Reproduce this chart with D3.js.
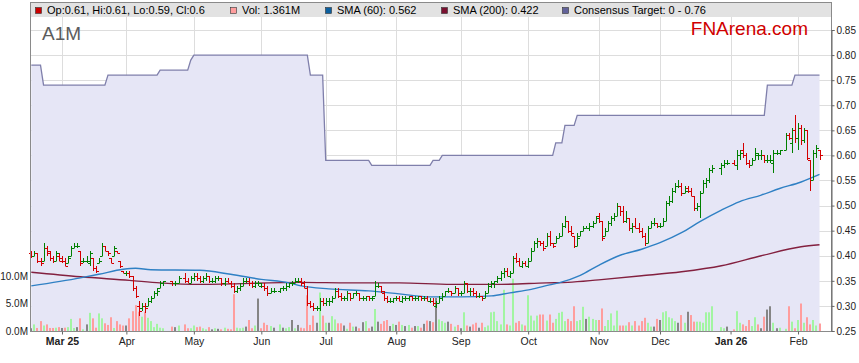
<!DOCTYPE html>
<html>
<head>
<meta charset="utf-8">
<script src="https://cdn.jsdelivr.net/npm/d3@7"></script>
<style>
  body { margin: 0; background: #fff; }
  svg { display: block; font-family: "Liberation Sans", Arial, sans-serif; }
</style>
</head>
<body>
<svg id="chart" width="859" height="363"></svg>
<script>
// weekday calendar of the chart (holidays keep their slot but have no bar)
var firstDay = "2025-02-17";
var lastDay = "2026-02-11";
var holidays = ["2025-04-18", "2025-04-21", "2025-04-25", "2025-06-09",
  "2025-12-25", "2025-12-26", "2026-01-01", "2026-01-26"];

var tickMonths = ["2025-03", "2025-04", "2025-05", "2025-06", "2025-07", "2025-08",
  "2025-09", "2025-10", "2025-11", "2025-12", "2026-01", "2026-02"];
var tickLabels = ["Mar 25", "Apr", "May", "Jun", "Jul", "Aug", "Sep", "Oct", "Nov", "Dec", "Jan 26", "Feb"];
var boldLabels = ["Mar 25", "Jan 26"];
var priceTicks = [0.25, 0.30, 0.35, 0.40, 0.45, 0.50, 0.55, 0.60, 0.65, 0.70, 0.75, 0.80, 0.85];
var volumeTicks = [0, 5, 10];

// daily bars, one entry per trading day
var opens = [
  .405,.40,.405,.39,.39,.415,.405,.395,.39,.40,
  .395,.39,.385,.40,.415,.42,.41,.39,.39,.385,.395,.375,.385,.40,.42,.41,.395,.40,.41,.39,.37,
  .365,.365,.36,.335,.30,.295,.30,.30,.31,.315,.325,.335,.345,.35,.345,.345,.355,.35,.345,
  .355,.36,.355,.35,.355,.36,.35,.35,.355,.355,.345,.35,.345,.34,.33,.335,.34,.35,.35,.345,.34,.345,
  .34,.34,.335,.325,.33,.33,.335,.335,.34,.345,.345,.35,.35,.345,.335,.305,.30,.295,.295,.31,
  .305,.31,.31,.315,.33,.32,.315,.315,.325,.315,.325,.325,.315,.315,.32,.315,.32,.34,.34,.325,.315,.31,.31,
  .315,.315,.31,.315,.315,.32,.315,.315,.32,.315,.315,.31,.31,.30,.305,.315,.32,.33,.33,.325,.335,
  .325,.325,.345,.33,.33,.325,.32,.32,.315,.325,.34,.345,.35,.355,.365,.37,.36,.365,.395,.39,.38,.385,
  .38,.39,.41,.425,.43,.425,.42,.44,.425,.425,.435,.44,.46,.47,.45,.44,.42,.44,.45,.455,.455,.46,.465,
  .48,.47,.44,.45,.465,.475,.48,.50,.49,.47,.475,.455,.46,.455,.45,.44,.425,.455,.465,.465,
  .46,.46,.47,.505,.51,.53,.54,.54,.525,.535,.53,.52,.495,.50,.525,.545,.55,.57,.575,.58,.585,
  .585,.58,.60,.61,.60,.585,.58,.59,.60,.60,.60,.59,.59,.585,.605,.605,.61,.64,.625,.65,
  .635,.655,.63,.65,.59,.55,.605,.61
];
var highs = [
  .41,.41,.405,.395,.425,.42,.41,.40,.41,.405,
  .40,.395,.40,.42,.425,.425,.41,.395,.40,.41,.395,.38,.395,.425,.42,.41,.395,.42,.41,.39,.37,
  .37,.37,.36,.34,.31,.305,.305,.315,.32,.33,.335,.35,.35,.35,.35,.36,.365,.355,.36,
  .365,.365,.36,.36,.365,.36,.355,.36,.36,.355,.355,.355,.35,.345,.34,.345,.355,.355,.355,.35,.35,.35,
  .345,.345,.34,.335,.335,.335,.34,.345,.345,.35,.355,.355,.355,.35,.34,.31,.305,.30,.315,.315,
  .315,.315,.32,.335,.335,.325,.32,.33,.325,.325,.33,.325,.32,.32,.32,.32,.35,.345,.34,.33,.32,.315,.315,
  .32,.32,.32,.32,.32,.32,.32,.32,.32,.32,.32,.315,.315,.31,.32,.325,.33,.335,.33,.34,.335,
  .33,.35,.345,.335,.335,.33,.325,.32,.33,.345,.35,.35,.36,.37,.375,.375,.37,.40,.405,.395,.39,.39,
  .395,.415,.43,.435,.43,.43,.445,.45,.425,.44,.445,.465,.48,.47,.46,.44,.445,.45,.46,.46,.465,.47,.48,
  .485,.47,.455,.47,.48,.485,.505,.50,.50,.49,.475,.465,.475,.465,.455,.445,.46,.47,.475,.465,
  .465,.475,.51,.52,.535,.545,.55,.545,.54,.54,.535,.52,.505,.53,.55,.555,.575,.58,.585,.59,.59,
  .59,.61,.61,.625,.605,.59,.595,.615,.605,.61,.60,.60,.60,.61,.61,.61,.645,.645,.655,.68,
  .665,.66,.655,.65,.59,.61,.62,.61
];
var lows = [
  .395,.40,.385,.38,.39,.40,.39,.385,.39,.39,
  .385,.38,.385,.40,.415,.415,.38,.385,.385,.38,.37,.365,.385,.40,.41,.40,.385,.40,.405,.375,.365,
  .36,.355,.33,.315,.28,.29,.285,.30,.305,.315,.32,.335,.34,.34,.34,.345,.345,.345,.345,
  .35,.35,.345,.345,.35,.345,.345,.345,.35,.34,.34,.345,.335,.325,.325,.33,.34,.345,.34,.335,.335,.34,
  .335,.33,.32,.325,.325,.325,.33,.33,.335,.34,.345,.345,.34,.335,.30,.295,.29,.29,.29,.30,
  .30,.30,.305,.315,.315,.31,.31,.31,.31,.315,.32,.31,.31,.31,.31,.31,.32,.335,.325,.31,.305,.305,.305,
  .31,.31,.305,.31,.31,.31,.31,.31,.31,.31,.31,.305,.30,.295,.305,.31,.32,.325,.32,.325,.32,
  .32,.325,.325,.32,.32,.315,.315,.31,.315,.325,.335,.335,.345,.35,.355,.36,.355,.365,.385,.38,.375,.38,
  .375,.39,.41,.415,.42,.41,.42,.42,.415,.425,.435,.44,.455,.445,.44,.415,.42,.44,.45,.455,.45,.455,.465,
  .465,.43,.44,.45,.46,.47,.48,.48,.465,.465,.45,.445,.455,.445,.435,.42,.425,.455,.46,.455,
  .455,.46,.47,.50,.505,.525,.535,.52,.525,.525,.52,.49,.49,.475,.525,.535,.545,.565,.56,.575,.58,
  .58,.57,.59,.595,.58,.575,.58,.59,.59,.59,.585,.585,.585,.565,.60,.60,.61,.63,.605,.625,
  .61,.62,.625,.59,.53,.55,.595,.59
];
var closes = [
  .40,.405,.39,.385,.415,.41,.395,.39,.405,.39,
  .39,.38,.395,.415,.42,.42,.385,.39,.39,.405,.375,.37,.39,.42,.41,.405,.385,.415,.405,.38,.365,
  .365,.36,.335,.32,.29,.30,.295,.31,.315,.325,.33,.345,.35,.345,.345,.355,.35,.345,.355,
  .36,.355,.35,.355,.36,.35,.35,.355,.355,.345,.35,.345,.34,.33,.335,.34,.35,.35,.345,.34,.345,.345,
  .34,.335,.325,.33,.33,.335,.335,.34,.345,.345,.35,.35,.345,.335,.305,.30,.295,.295,.31,.305,
  .31,.31,.315,.33,.32,.315,.315,.325,.315,.325,.325,.315,.315,.32,.315,.315,.34,.34,.33,.315,.31,.31,.315,
  .315,.31,.315,.315,.32,.315,.315,.32,.315,.315,.31,.31,.305,.305,.315,.32,.33,.33,.325,.335,.325,
  .325,.345,.33,.33,.325,.32,.32,.315,.325,.34,.345,.35,.355,.365,.37,.36,.365,.395,.39,.38,.385,.38,
  .39,.41,.425,.43,.425,.415,.44,.425,.42,.435,.44,.46,.47,.45,.445,.42,.435,.45,.455,.455,.46,.465,.475,
  .47,.435,.45,.465,.475,.48,.50,.49,.47,.475,.455,.46,.455,.45,.44,.425,.455,.465,.465,.46,
  .46,.47,.505,.51,.53,.54,.54,.525,.53,.53,.52,.495,.50,.525,.545,.55,.57,.575,.58,.585,.585,
  .58,.60,.605,.60,.585,.58,.59,.605,.60,.60,.59,.59,.59,.605,.605,.61,.64,.635,.65,.635,
  .655,.63,.65,.595,.55,.605,.615,.60
];
// volume in millions of shares
var volumes = [
  0.5,1.2,0.55,1.8,1.0,1.2,0.55,0.55,0.6,0.7,
  0.55,0.6,0.7,2.2,0.55,0.7,2.3,0.3,1.2,3.3,2.3,0.6,3.2,2.3,1.4,1.1,2.5,0.55,1.8,1.2,1.0,
  1.0,2.3,3.6,4.7,3.5,2.6,3.5,2.4,1.8,0.7,1.3,0.6,0.5,0.8,0.7,1.0,1.2,0.5,0.5,
  1.0,0.7,0.8,0.5,0.3,0.7,0.3,0.5,0.4,0.3,0.6,0.4,0.3,6.7,0.6,0.5,0.6,0.8,2.0,0.5,1.0,5.9,
  0.5,1.5,1.1,0.9,0.6,1.2,0.6,0.5,0.7,2.0,0.5,1.1,0.6,0.5,6.5,1.1,2.8,1.5,7.0,2.8,
  1.5,1.5,2.7,2.1,1.4,1.4,1.0,0.4,1.5,0.8,0.8,0.5,1.6,1.8,0.5,0.8,4.0,1.7,1.3,1.8,2.0,0.9,1.3,
  1.1,1.7,1.1,0.9,1.1,0.6,0.9,0.9,0.6,1.3,1.9,1.8,1.6,6.0,2.1,1.8,1.5,1.7,1.3,0.8,1.1,
  0.5,3.4,1.0,0.8,1.2,1.5,0.6,1.5,0.7,1.0,3.4,3.5,1.8,1.2,7.5,1.2,1.0,9.5,1.5,1.8,1.2,1.0,
  6.5,2.8,1.9,2.8,3.0,3.0,1.9,3.0,1.5,2.2,3.3,3.5,1.8,2.2,1.8,4.5,1.8,2.0,4.4,2.2,2.6,2.2,2.0,
  2.0,4.1,0.9,2.0,3.2,1.0,3.7,1.0,1.0,1.0,1.6,1.0,1.8,1.0,1.8,2.4,1.5,0.8,0.8,2.2,
  2.0,3.4,3.6,2.5,2.3,1.8,1.5,2.9,1.5,3.5,2.9,1.7,1.7,1.7,1.5,3.4,3.4,4.5,0.7,0.5,0.8,
  0.3,3.6,1.5,1.2,0.9,2.0,0.9,2.5,1.2,0.5,2.6,3.9,4.5,1.5,0.5,0.6,0.4,4.5,1.7,0.5,
  2.0,5.0,1.5,2.5,1.2,2.0,1.0,1.361
];

// moving averages (weekday number from firstDay, value)
var sma60Days = [0, 16, 22, 30, 34, 39, 55, 65, 75, 84, 88, 97, 110, 120, 130, 140, 150, 156, 163, 169, 172, 179, 185, 192, 199, 205, 212, 218, 225, 231, 238, 244, 251, 257];
var sma60Values = [.34, .356, .363, .373, .375, .372, .371, .363, .353, .346, .340, .334, .330, .324, .318, .318, .320, .326, .333, .342, .346, .361, .381, .401, .413, .426, .446, .468, .491, .508, .521, .534, .547, .562];
var sma200Days = [0, 16, 32, 42, 55, 88, 104, 120, 137, 153, 168, 175, 185, 199, 212, 225, 238, 251, 257];
var sma200Values = [.367, .358, .351, .346, .343, .347, .346, .346, .343, .343, .346, .347, .352, .360, .368, .380, .400, .418, .422];

// consensus target, stepwise (weekday number where the value starts)
var targetDays = [0, 4, 25, 42, 52, 53, 91, 96, 111, 131, 134, 171, 174, 178, 240, 249];
var targetValues = [.78, .74, .76, .77, .79, .80, .76, .59, .58, .59, .60, .625, .66, .68, .74, .76];

var legendLabels = ["Vol: ", "SMA (60): ", "SMA (200): ", "Consensus Target: 0 - 0.76"];

(function() {
  var svg = d3.select("#chart");
  var parseDay = d3.utcParse("%Y-%m-%d");
  var formatDay = d3.utcFormat("%Y-%m-%d");
  var formatMonth = d3.utcFormat("%Y-%m");

  var left = 31, right = 831, top = 3, bottom = 331, legendBottom = 17;

  var slots = d3.utcDays(parseDay(firstDay), d3.utcDay.offset(parseDay(lastDay), 1))
    .filter(function(d) { var w = d.getUTCDay(); return w > 0 && w < 6; });
  var tradeSlots = d3.range(slots.length).filter(function(i) {
    return holidays.indexOf(formatDay(slots[i])) < 0;
  });

  var bars = tradeSlots.map(function(s, i) {
    return { s: s, o: opens[i], h: highs[i], l: lows[i], c: closes[i], v: volumes[i],
      prev: i > 0 ? closes[i - 1] : closes[i] };
  });

  var x = d3.scaleLinear().domain([0, slots.length - 1]).range([31.3, 819.5]);
  var y = d3.scaleLinear().domain([0.25, 0.85]).range([bottom, 30]);
  var yVol = d3.scaleLinear().domain([0, 10]).range([bottom, 276]);
  var monthSlots = tickMonths.map(function(m) {
    return slots.findIndex(function(d) { return formatMonth(d) === m; });
  });
  var px = function(s) { return Math.round(x(s)) + 0.5; };
  var py = function(v) { return Math.round(y(v)) + 0.5; };

  // legend band
  svg.append("rect").attr("x", left).attr("y", top).attr("width", right - left).attr("height", legendBottom - top)
    .attr("fill", "#e2e2e2");

  // grid
  var grid = svg.append("g").attr("stroke", "#dddddd").attr("stroke-width", 1);
  grid.selectAll("line.h").data(priceTicks.slice(1)).enter().append("line")
    .attr("x1", left).attr("x2", right)
    .attr("y1", function(d) { return py(d); }).attr("y2", function(d) { return py(d); });
  grid.selectAll("line.v").data(monthSlots).enter().append("line")
    .attr("y1", legendBottom).attr("y2", bottom)
    .attr("x1", function(d) { return px(d); }).attr("x2", function(d) { return px(d); });

  // consensus target area
  var targetAt = function(s) {
    var v = targetValues[0];
    targetDays.forEach(function(d, i) { if (d <= s) v = targetValues[i]; });
    return v;
  };
  var targetPts = bars.map(function(b) { return { s: b.s, v: targetAt(b.s) }; });
  svg.append("path").datum(targetPts)
    .attr("fill", "#e6e6f6")
    .attr("d", d3.area().x(function(d) { return x(d.s); }).y0(bottom).y1(function(d) { return y(d.v); }));
  svg.append("path").datum(targetPts)
    .attr("fill", "none").attr("stroke", "#7f7fab").attr("stroke-width", 1.3)
    .attr("d", d3.line().x(function(d) { return x(d.s); }).y(function(d) { return y(d.v); }));

  // volume
  var volColor = function(b) { return b.c > b.prev ? "#a2f5a2" : (b.c < b.prev ? "#ff9d9d" : "#858585"); };
  svg.append("g").selectAll("rect").data(bars).enter().append("rect")
    .attr("x", function(b) { return Math.round(x(b.s)) - 1; })
    .attr("width", 2)
    .attr("y", function(b) { return yVol(b.v); })
    .attr("height", function(b) { return bottom - yVol(b.v); })
    .attr("fill", volColor);

  // moving averages
  var smaLine = d3.line().curve(d3.curveMonotoneX)
    .x(function(d) { return x(d[0]); }).y(function(d) { return y(d[1]); });
  svg.append("path").datum(d3.zip(sma200Days, sma200Values))
    .attr("fill", "none").attr("stroke", "#83203f").attr("stroke-width", 1.4).attr("d", smaLine);
  svg.append("path").datum(d3.zip(sma60Days, sma60Values))
    .attr("fill", "none").attr("stroke", "#2f80c4").attr("stroke-width", 1.4).attr("d", smaLine);

  // OHLC bars
  var ohlc = svg.append("g").attr("stroke-width", 1).selectAll("g").data(bars).enter().append("g")
    .attr("stroke", function(b) { return b.c < b.o ? "#d40000" : "#008000"; });
  ohlc.append("line")
    .attr("x1", function(b) { return px(b.s); }).attr("x2", function(b) { return px(b.s); })
    .attr("y1", function(b) { return Math.round(y(b.h)); })
    .attr("y2", function(b) { return Math.max(Math.round(y(b.l)), Math.round(y(b.h)) + 2); });
  ohlc.append("line")
    .attr("x1", function(b) { return px(b.s) - 2.5; }).attr("x2", function(b) { return px(b.s); })
    .attr("y1", function(b) { return py(b.o); }).attr("y2", function(b) { return py(b.o); });
  ohlc.append("line")
    .attr("x1", function(b) { return px(b.s); }).attr("x2", function(b) { return px(b.s) + 2.5; })
    .attr("y1", function(b) { return py(b.c); }).attr("y2", function(b) { return py(b.c); });

  // frame
  svg.append("rect").attr("x", left - 0.5).attr("y", top - 0.5).attr("width", right - left + 1).attr("height", bottom - top + 1)
    .attr("fill", "none").attr("stroke", "#8a8a8a");

  // right price axis
  var yAxis = svg.append("g").attr("transform", "translate(" + (right + 0.5) + ",0)")
    .call(d3.axisRight(y).tickValues(priceTicks).tickSize(3).tickPadding(2).tickFormat(d3.format(".2f")));
  yAxis.select(".domain").attr("stroke", "#666");
  yAxis.selectAll(".tick line").attr("stroke", "#666");
  yAxis.selectAll("text").attr("font-family", null).attr("font-size", 10).attr("fill", "#222");

  // left volume axis
  var vAxis = svg.append("g").attr("transform", "translate(" + (left - 1) + ",0)")
    .call(d3.axisLeft(yVol).tickValues(volumeTicks).tickSize(0).tickPadding(2)
      .tickFormat(function(d) { return d.toFixed(1) + "M"; }));
  vAxis.select(".domain").remove();
  vAxis.selectAll("text").attr("font-family", null).attr("font-size", 10).attr("fill", "#222");

  // month axis
  var xAxis = svg.append("g").attr("transform", "translate(0," + (bottom + 0.5) + ")")
    .call(d3.axisBottom(x).tickValues(monthSlots).tickSize(3).tickPadding(3)
      .tickFormat(function(d, i) { return tickLabels[i]; }));
  xAxis.select(".domain").remove();
  xAxis.selectAll(".tick line").attr("stroke", "#666");
  xAxis.selectAll("text").attr("font-family", null).attr("font-size", 10.5).attr("fill", "#222")
    .attr("font-weight", function(d, i) { return boldLabels.indexOf(tickLabels[i]) >= 0 ? "bold" : null; });

  // legend
  var last = bars[bars.length - 1];
  var legendItems = [
    { x: 35, color: "#cc0000", text: "Op:" + last.o + ", Hi:" + last.h + ", Lo:" + last.l + ", Cl:" + last.c },
    { x: 230, color: "#ff9d9d", text: legendLabels[0] + last.v + "M" },
    { x: 325, color: "#0b5f9f", text: legendLabels[1] + sma60Values[sma60Values.length - 1] },
    { x: 441, color: "#7a1030", text: legendLabels[2] + sma200Values[sma200Values.length - 1] },
    { x: 562, color: "#62629a", text: legendLabels[3] }
  ];
  var legend = svg.append("g").selectAll("g").data(legendItems).enter().append("g");
  legend.append("rect")
    .attr("x", function(d) { return d.x + 0.5; }).attr("y", 7.5).attr("width", 6).attr("height", 6)
    .attr("fill", function(d) { return d.color; }).attr("stroke", "#333").attr("stroke-width", 0.6);
  legend.append("text")
    .attr("x", function(d) { return d.x + 12; }).attr("y", 14)
    .attr("font-size", 11).attr("fill", "#000")
    .text(function(d) { return d.text; });

  // titles
  svg.append("text").attr("x", 42).attr("y", 40).attr("font-size", 19).attr("fill", "#5c5c5c").text("A1M");
  svg.append("text").attr("x", 808).attr("y", 35).attr("text-anchor", "end")
    .attr("font-size", 19).attr("fill", "#d00000").text("FNArena.com");
})();
</script>
</body>
</html>
